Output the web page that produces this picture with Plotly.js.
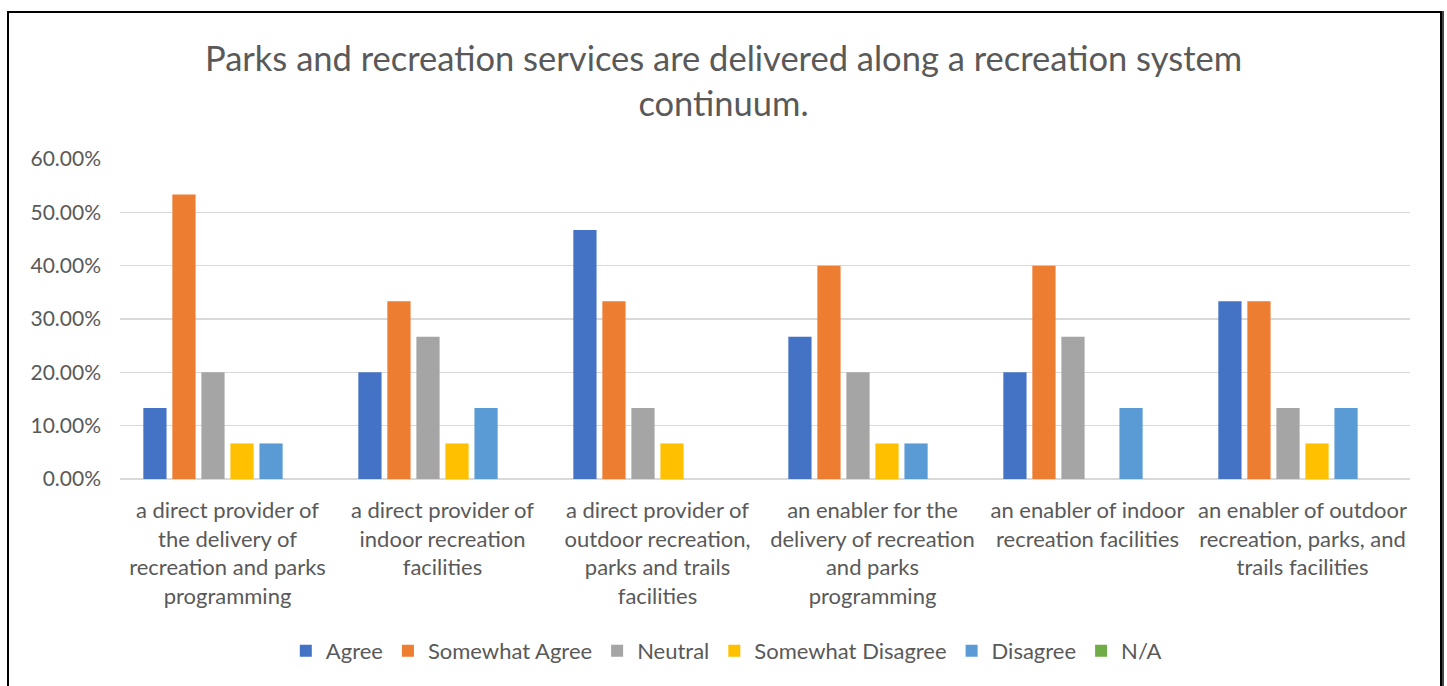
<!DOCTYPE html>
<html>
<head>
<meta charset="utf-8">
<script src="https://cdn.plot.ly/plotly-3.0.1.min.js"></script>
<style>
  html, body { margin: 0; padding: 0; background: #fff; overflow: hidden; }
  #chart { width: 1447px; height: 686px; position: absolute; left: 0; top: 0; }
  #frame { position: absolute; left: 7px; top: 11px; width: 1431px; height: 700px;
           border: 2px solid #000; box-shadow: 2px 0 0 #444; pointer-events: none; }
</style>
</head>
<body>
<div id="chart"></div>
<div id="frame"></div>
<script>
const categories = [
  "a direct provider of<br>the delivery of<br>recreation and parks<br>programming",
  "a direct provider of<br>indoor recreation<br>facilities",
  "a direct provider of<br>outdoor recreation,<br>parks and trails<br>facilities",
  "an enabler for the<br>delivery of recreation<br>and parks<br>programming",
  "an enabler of indoor<br>recreation facilities",
  "an enabler of outdoor<br>recreation, parks, and<br>trails facilities"
];
const seriesNames = ["Agree", "Somewhat Agree", "Neutral", "Somewhat Disagree", "Disagree", "N/A"];
const agree            = [0.1333, 0.2000, 0.4667, 0.2667, 0.2000, 0.3333];
const somewhatAgree    = [0.5333, 0.3333, 0.3333, 0.4000, 0.4000, 0.3333];
const neutral          = [0.2000, 0.2667, 0.1333, 0.2000, 0.2667, 0.1333];
const somewhatDisagree = [0.0667, 0.0667, 0.0667, 0.0667, 0.0000, 0.0667];
const disagree         = [0.0667, 0.1333, 0.0000, 0.0667, 0.1333, 0.1333];
const notApplicable    = [0, 0, 0, 0, 0, 0];
const yTickValues = [0, 0.1, 0.2, 0.3, 0.4, 0.5, 0.6];

const seriesValues = [agree, somewhatAgree, neutral, somewhatDisagree, disagree, notApplicable];
const colors = ["#4472C4", "#ED7D31", "#A5A5A5", "#FFC000", "#5B9BD5", "#70AD47"];
const FONT = "Lato, 'Open Sans', sans-serif";

const traces = seriesNames.map((name, i) => ({
  type: "bar",
  name: name,
  x: categories,
  y: seriesValues[i],
  marker: { color: colors[i] },
  hoverinfo: "skip"
}));

const layout = {
  width: 1447,
  height: 686,
  paper_bgcolor: "rgba(0,0,0,0)",
  plot_bgcolor: "#fff",
  margin: { l: 120, r: 37, t: 159, b: 207 },
  barmode: "group",
  bargap: 0.19,
  bargroupgap: 0.2,
  font: { family: FONT, color: "#595959" },
  title: {
    text: "Parks and recreation services are delivered along a recreation system<br>continuum.",
    font: { family: FONT, size: 34.5, color: "#595959" },
    x: 0.5, xanchor: "center",
    yref: "container", y: 1 - 71 / 686, yanchor: "middle"
  },
  xaxis: {
    type: "category",
    tickfont: { family: FONT, size: 22, color: "#595959" },
    showgrid: false,
    showline: false,
    ticks: "",
    ticklabelstandoff: 16,
    fixedrange: true
  },
  yaxis: {
    range: [0, 0.6],
    tickvals: yTickValues,
    tickformat: ".2%",
    tickfont: { family: FONT, size: 21, color: "#595959" },
    gridcolor: "#D9D9D9",
    gridwidth: 1.5,
    zeroline: true,
    zerolinecolor: "#D9D9D9",
    zerolinewidth: 1.5,
    showline: false,
    ticks: "",
    ticklabelstandoff: 18,
    fixedrange: true
  },
  legend: {
    orientation: "h",
    x: 0.47, xanchor: "center",
    y: -0.5375, yanchor: "middle",
    font: { family: FONT, size: 22, color: "#595959" },
    itemwidth: 30,
    tracegroupgap: 0
  },
  showlegend: true
};

Plotly.newPlot("chart", traces, layout, { staticPlot: true, displayModeBar: false });
</script>
</body>
</html>
